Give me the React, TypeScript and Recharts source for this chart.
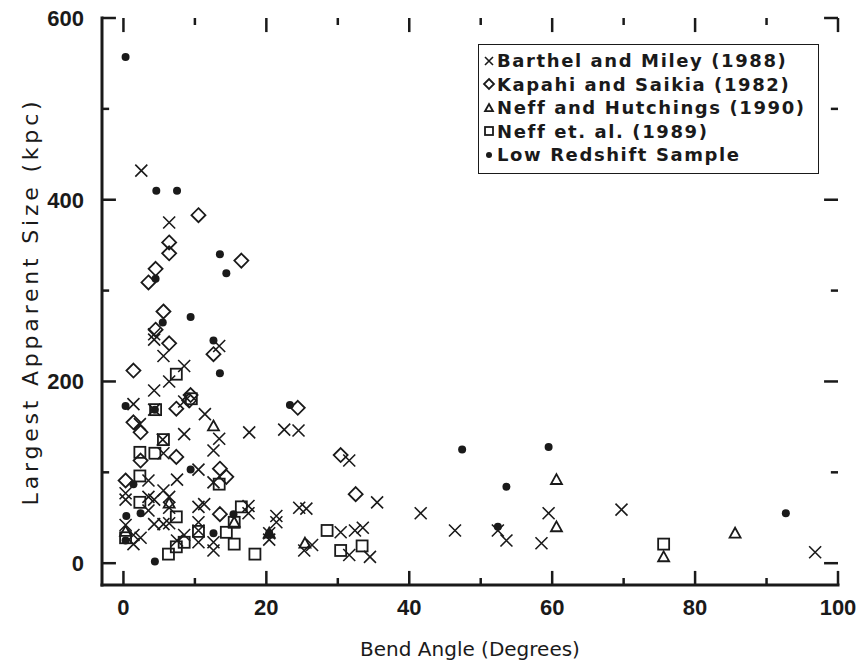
import {
  Label,
  Legend,
  ReferenceLine,
  Scatter,
  ScatterChart,
  XAxis,
  YAxis,
} from "recharts";

// [bend angle (deg), largest apparent size (kpc)]
const barthel: [number, number][] = [
  [2.5, 432], [6.4, 375], [4.3, 252], [4.3, 246], [13.4, 239], [5.6, 228], [8.5, 217],
  [6.4, 200], [4.3, 190], [8.5, 178], [1.4, 175], [11.4, 164], [2.3, 153], [8.5, 142],
  [5.5, 136], [13.4, 137], [17.6, 144], [22.5, 147], [24.5, 146], [12.6, 124], [5.6, 121],
  [31.6, 113], [10.5, 103], [7.5, 92], [3.5, 91], [12.6, 89], [5.6, 80], [0.3, 77],
  [0.3, 70], [3.5, 73], [4.3, 70], [6.4, 73], [6.4, 61], [3.5, 58], [10.5, 62], [11.3, 65],
  [17.5, 63], [17.5, 55], [21.4, 52], [21.4, 45], [24.6, 61], [25.6, 60], [35.5, 67],
  [41.6, 55], [4.3, 43], [5.6, 43], [6.4, 44], [0.3, 42], [1.4, 31], [2.4, 28], [1.4, 21],
  [7.5, 25], [8.5, 31], [10.5, 45], [10.5, 36], [10.5, 23], [12.6, 23], [12.6, 14],
  [20.4, 33], [20.4, 26], [30.4, 34], [32.4, 36], [33.5, 39], [25.3, 14], [26.4, 20],
  [31.6, 9], [34.5, 7], [46.4, 36], [52.4, 36], [53.6, 25], [59.5, 55], [58.5, 22],
  [69.7, 59], [96.8, 12], [4.3, 169],
];

const kapahi: [number, number][] = [
  [10.5, 383], [6.4, 353], [6.4, 341], [16.5, 333], [4.5, 324], [3.5, 309], [5.6, 277],
  [4.5, 257], [6.4, 242], [12.6, 230], [1.4, 212], [9.4, 185], [9.2, 179], [7.4, 170],
  [1.4, 155], [2.4, 144], [2.4, 113], [7.4, 117], [13.5, 104], [14.4, 95], [0.3, 91],
  [13.5, 54], [24.4, 171], [30.4, 119], [32.5, 76],
];

const neffHutchings: [number, number][] = [
  [12.6, 151], [6.4, 66], [0.3, 35], [15.5, 45], [20.4, 33], [25.4, 22],
  [60.6, 92], [60.6, 40], [75.6, 7], [85.6, 33],
];

const neffEtAl: [number, number][] = [
  [7.4, 208], [9.5, 181], [4.5, 169], [5.6, 136], [2.3, 122], [4.4, 121], [2.3, 96],
  [13.4, 87], [2.3, 67], [7.4, 51], [16.5, 62], [15.5, 45], [10.5, 35], [0.3, 28],
  [8.5, 23], [7.4, 18], [6.3, 10], [14.4, 34], [15.5, 21], [18.4, 10], [28.5, 36],
  [30.4, 14], [33.4, 19], [75.6, 21],
];

const lowRedshift: [number, number][] = [
  [0.3, 557], [4.6, 410], [7.5, 410], [13.5, 340], [14.4, 319], [4.5, 313], [9.4, 271],
  [5.5, 265], [12.6, 245], [13.5, 209], [23.3, 174], [0.3, 173], [4.4, 169], [9.4, 103],
  [1.4, 87], [0.4, 52], [2.4, 55], [0.3, 25], [12.6, 33], [15.4, 54], [4.4, 2],
  [20.4, 33], [47.4, 125], [53.6, 84], [52.4, 40], [59.5, 128], [92.7, 55],
];

const xTicks = [0, 10, 20, 30, 40, 50, 60, 70, 80, 90, 100];
const yTicks = [0, 100, 200, 300, 400, 500, 600];
const X_DOMAIN: [number, number] = [-3, 100];
const Y_DOMAIN: [number, number] = [-24, 600];

const INK = "#1a1a1a";
const TICK_FONT = "'Liberation Sans', Arial, sans-serif";
const TITLE_FONT = "'DejaVu Sans', sans-serif";

// inward frame tick lengths, in axis units (about 14px major / 7px minor)
const X_TICK_LEN = { major: 15.5, minor: 7.7 }; // along y
const Y_TICK_LEN = { major: 1.95, minor: 1.0 }; // along x

const toPts = (arr: [number, number][]) => arr.map(([x, y]) => ({ x, y }));

function Cross({ cx, cy, s = 6 }: any) {
  return (
    <path
      d={`M${cx - s},${cy - s}L${cx + s},${cy + s}M${cx - s},${cy + s}L${cx + s},${cy - s}`}
      stroke={INK}
      strokeWidth={1.6}
      fill="none"
    />
  );
}

function Diamond({ cx, cy, s = 7 }: any) {
  return (
    <path
      d={`M${cx},${cy - s}L${cx + s},${cy}L${cx},${cy + s}L${cx - s},${cy}Z`}
      stroke={INK}
      strokeWidth={1.8}
      fill="none"
    />
  );
}

function Triangle({ cx, cy, s = 5.5 }: any) {
  return (
    <path
      d={`M${cx},${cy - s}L${cx + s},${cy + s * 0.8}L${cx - s},${cy + s * 0.8}Z`}
      stroke={INK}
      strokeWidth={1.8}
      fill="none"
    />
  );
}

function Square({ cx, cy, s = 5.5 }: any) {
  return (
    <rect x={cx - s} y={cy - s} width={s * 2} height={s * 2} stroke={INK} strokeWidth={1.8} fill="none" />
  );
}

function Dot({ cx, cy, s = 4 }: any) {
  return <circle cx={cx} cy={cy} r={s} fill={INK} />;
}

function BottomTick({ x, y, payload }: any) {
  if (payload.value % 20 !== 0) return <g />;
  return (
    <text x={x} y={y} dy="0.71em" textAnchor="middle" fontFamily={TICK_FONT} fontWeight="bold" fontSize={22} fill={INK}>
      {payload.value}
    </text>
  );
}

function LeftTick({ x, y, payload }: any) {
  if (payload.value % 200 !== 0) return <g />;
  return (
    <text x={x} y={y} dy="0.36em" textAnchor="end" fontFamily={TICK_FONT} fontWeight="bold" fontSize={22} fill={INK}>
      {payload.value}
    </text>
  );
}

const legendRows = [
  { name: "Barthel and Miley (1988)", Icon: Cross, s: 4 },
  { name: "Kapahi and Saikia (1982)", Icon: Diamond, s: 5 },
  { name: "Neff and Hutchings (1990)", Icon: Triangle, s: 4 },
  { name: "Neff et. al. (1989)", Icon: Square, s: 4 },
  { name: "Low Redshift Sample", Icon: Dot, s: 3 },
];

function LegendBox() {
  return (
    <div
      style={{
        border: `1.5px solid ${INK}`,
        padding: "4px 0",
        background: "#fff",
        width: 341,
        height: 130,
        boxSizing: "border-box",
      }}
    >
      {legendRows.map(({ name, Icon, s }) => (
        <div key={name} style={{ display: "flex", alignItems: "center", height: 23.5 }}>
          <svg width={18} height={20} style={{ flex: "none" }}>
            <Icon cx={10} cy={10} s={s} />
          </svg>
          <span
            style={{
              fontFamily: TITLE_FONT,
              fontWeight: "bold",
              fontSize: 18,
              letterSpacing: 1.6,
              color: INK,
              whiteSpace: "nowrap",
            }}
          >
            {name}
          </span>
        </div>
      ))}
    </div>
  );
}

const axisLine = { stroke: INK, strokeWidth: 3, strokeLinecap: "square" as const };

export default function App() {
  const [x0, x1] = X_DOMAIN;
  const [y0, y1] = Y_DOMAIN;
  return (
    <ScatterChart width={851} height={652} margin={{ top: 10, right: 21, bottom: 0, left: 0 }}>
      <XAxis
        xAxisId="b"
        dataKey="x"
        type="number"
        domain={X_DOMAIN}
        ticks={xTicks}
        interval={0}
        height={75}
        tickSize={0}
        tickMargin={14}
        tickLine={false}
        axisLine={axisLine}
        tick={<BottomTick />}
        allowDataOverflow
      >
        <Label
          value="Bend Angle (Degrees)"
          position="insideBottom"
          offset={4}
          style={{ fontFamily: TITLE_FONT, fontSize: 20, fill: INK }}
        />
      </XAxis>
      <XAxis
        xAxisId="t"
        orientation="top"
        type="number"
        domain={X_DOMAIN}
        height={0}
        tick={false}
        tickLine={false}
        axisLine={axisLine}
        allowDataOverflow
      />
      <YAxis
        yAxisId="l"
        dataKey="y"
        type="number"
        domain={Y_DOMAIN}
        ticks={yTicks}
        interval={0}
        width={94}
        tickSize={0}
        tickMargin={18}
        tickLine={false}
        axisLine={axisLine}
        tick={<LeftTick />}
        allowDataOverflow
      >
        <Label
          value="Largest Apparent Size (kpc)"
          angle={-90}
          position="insideLeft"
          offset={22}
          style={{ fontFamily: TITLE_FONT, fontSize: 22, fill: INK, textAnchor: "middle", letterSpacing: 3.8 }}
        />
      </YAxis>
      <YAxis
        yAxisId="r"
        orientation="right"
        type="number"
        domain={Y_DOMAIN}
        width={0}
        tick={false}
        tickLine={false}
        axisLine={axisLine}
        allowDataOverflow
      />

      {xTicks.map((v) => {
        const len = v % 20 === 0 ? X_TICK_LEN.major : X_TICK_LEN.minor;
        return [
          <ReferenceLine
            key={`xb${v}`}
            xAxisId="b"
            yAxisId="l"
            segment={[{ x: v, y: y0 }, { x: v, y: y0 + len }]}
            stroke={INK}
            strokeWidth={2.5}
            ifOverflow="visible"
          />,
          <ReferenceLine
            key={`xt${v}`}
            xAxisId="b"
            yAxisId="l"
            segment={[{ x: v, y: y1 }, { x: v, y: y1 - len }]}
            stroke={INK}
            strokeWidth={2.5}
            ifOverflow="visible"
          />,
        ];
      })}
      {yTicks.map((v) => {
        const len = v % 200 === 0 ? Y_TICK_LEN.major : Y_TICK_LEN.minor;
        return [
          <ReferenceLine
            key={`yl${v}`}
            xAxisId="b"
            yAxisId="l"
            segment={[{ x: x0, y: v }, { x: x0 + len, y: v }]}
            stroke={INK}
            strokeWidth={2.5}
            ifOverflow="visible"
          />,
          <ReferenceLine
            key={`yr${v}`}
            xAxisId="b"
            yAxisId="l"
            segment={[{ x: x1, y: v }, { x: x1 - len, y: v }]}
            stroke={INK}
            strokeWidth={2.5}
            ifOverflow="visible"
          />,
        ];
      })}

      <Legend
        layout="vertical"
        align="center"
        verticalAlign="middle"
        content={() => <LegendBox />}
        wrapperStyle={{ position: "absolute", left: 470, top: 36, width: 341 }}
      />
      <Scatter name="Barthel and Miley (1988)" xAxisId="b" yAxisId="l" data={toPts(barthel)} shape={<Cross />} isAnimationActive={false} />
      <Scatter name="Kapahi and Saikia (1982)" xAxisId="b" yAxisId="l" data={toPts(kapahi)} shape={<Diamond />} isAnimationActive={false} />
      <Scatter name="Neff and Hutchings (1990)" xAxisId="b" yAxisId="l" data={toPts(neffHutchings)} shape={<Triangle />} isAnimationActive={false} />
      <Scatter name="Neff et. al. (1989)" xAxisId="b" yAxisId="l" data={toPts(neffEtAl)} shape={<Square />} isAnimationActive={false} />
      <Scatter name="Low Redshift Sample" xAxisId="b" yAxisId="l" data={toPts(lowRedshift)} shape={<Dot />} isAnimationActive={false} />
    </ScatterChart>
  );
}
